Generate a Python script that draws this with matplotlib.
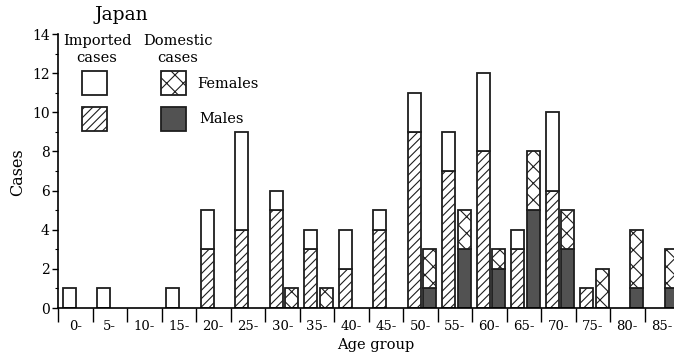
import numpy as np
import matplotlib
matplotlib.use('Agg')
import matplotlib.pyplot as plt
from matplotlib.patches import Rectangle
from matplotlib.ticker import FixedLocator, MultipleLocator

plt.rcParams['font.family'] = 'DejaVu Serif'
plt.rcParams['hatch.linewidth'] = 0.8

# case counts per 5-year age group
age_groups = ['0-', '5-', '10-', '15-', '20-', '25-', '30-', '35-', '40-',
              '45-', '50-', '55-', '60-', '65-', '70-', '75-', '80-', '85-']
imported_males = [0, 0, 0, 0, 3, 4, 5, 3, 2, 4, 9, 7, 8, 3, 6, 1, 0, 0]
imported_females = [1, 1, 0, 1, 2, 5, 1, 1, 2, 1, 2, 2, 4, 1, 4, 0, 0, 0]
domestic_males = [0, 0, 0, 0, 0, 0, 0, 0, 0, 0, 1, 3, 2, 5, 3, 0, 1, 1]
domestic_females = [0, 0, 0, 0, 0, 0, 1, 1, 0, 0, 2, 2, 1, 3, 2, 2, 3, 2]

edge = '#1e1e1e'
dark = '#525252'
bw = 0.38

fig = plt.figure(figsize=(6.74, 3.58), dpi=100)
ax = fig.add_axes([58 / 674, 50 / 358, 621 / 674, 274 / 358])

x = np.arange(len(age_groups))
x_imp = x + 0.33
x_dom = x + 0.77

def stacked(xpos, low, high, low_style, high_style):
    low = np.array(low)
    high = np.array(high)
    for xi, lo, hi in zip(xpos, low, high):
        if lo > 0:
            ax.bar(xi, lo, bw, edgecolor=edge, linewidth=1.3, **low_style)
        if hi > 0:
            ax.bar(xi, hi, bw, bottom=lo, edgecolor=edge, linewidth=1.3, **high_style)

stacked(x_imp, imported_males, imported_females,
        dict(facecolor='white', hatch='////'), dict(facecolor='white'))
stacked(x_dom, domestic_males, domestic_females,
        dict(facecolor=dark), dict(facecolor='white', hatch='xx'))

ax.set_xlim(0, len(age_groups))
ax.set_ylim(0, 14)

for s in ['top', 'right']:
    ax.spines[s].set_visible(False)
ax.spines['left'].set_linewidth(1.2)
ax.spines['bottom'].set_linewidth(1.2)
ax.spines['left'].set_bounds(0, 14)

# group boundaries as long ticks, names centred in each group
ax.xaxis.set_major_locator(FixedLocator(np.arange(len(age_groups) + 1)))
ax.xaxis.set_minor_locator(FixedLocator(x + 0.5))
ax.set_xticklabels([], minor=False)
ax.set_xticklabels(age_groups, minor=True)
ax.tick_params(axis='x', which='major', length=10, width=1.0, direction='out')
ax.tick_params(axis='x', which='minor', length=0, pad=9, labelsize=9.5)

ax.yaxis.set_major_locator(MultipleLocator(2))
ax.yaxis.set_minor_locator(MultipleLocator(1))
ax.tick_params(axis='y', which='major', length=4, width=1.0, pad=2, labelsize=10)
ax.tick_params(axis='y', which='minor', length=2.5, width=0.8)

fig.text(18 / 674, 1 - 172 / 358, 'Cases', rotation=90, ha='center', va='center', fontsize=11.5)
fig.text(376 / 674, 1 - 345 / 358, 'Age group', ha='center', va='center', fontsize=10.5)
fig.text(121 / 674, 1 - 15 / 358, 'Japan', ha='center', va='center', fontsize=13.5)

# legend block
T = ax.transAxes
sw, sh = 25 / 621, 24 / 274
ax.add_patch(Rectangle((0.0386, 0.777), sw, sh, transform=T, facecolor='white', edgecolor=edge, linewidth=1.3))
ax.add_patch(Rectangle((0.0386, 0.646), sw, sh, transform=T, facecolor='white', hatch='////', edgecolor=edge, linewidth=1.3))
ax.add_patch(Rectangle((0.166, 0.777), sw, sh, transform=T, facecolor='white', hatch='xx', edgecolor=edge, linewidth=1.3))
ax.add_patch(Rectangle((0.166, 0.646), sw, sh, transform=T, facecolor=dark, edgecolor=edge, linewidth=1.3))
ax.text(0.0628, 0.974, 'Imported', transform=T, ha='center', va='center', fontsize=10.5)
ax.text(0.0628, 0.912, 'cases', transform=T, ha='center', va='center', fontsize=10.5)
ax.text(0.193, 0.974, 'Domestic', transform=T, ha='center', va='center', fontsize=10.5)
ax.text(0.193, 0.912, 'cases', transform=T, ha='center', va='center', fontsize=10.5)
ax.text(0.224, 0.818, 'Females', transform=T, ha='left', va='center', fontsize=10.5)
ax.text(0.227, 0.690, 'Males', transform=T, ha='left', va='center', fontsize=10.5)

fig.savefig('out.png', dpi=100)
